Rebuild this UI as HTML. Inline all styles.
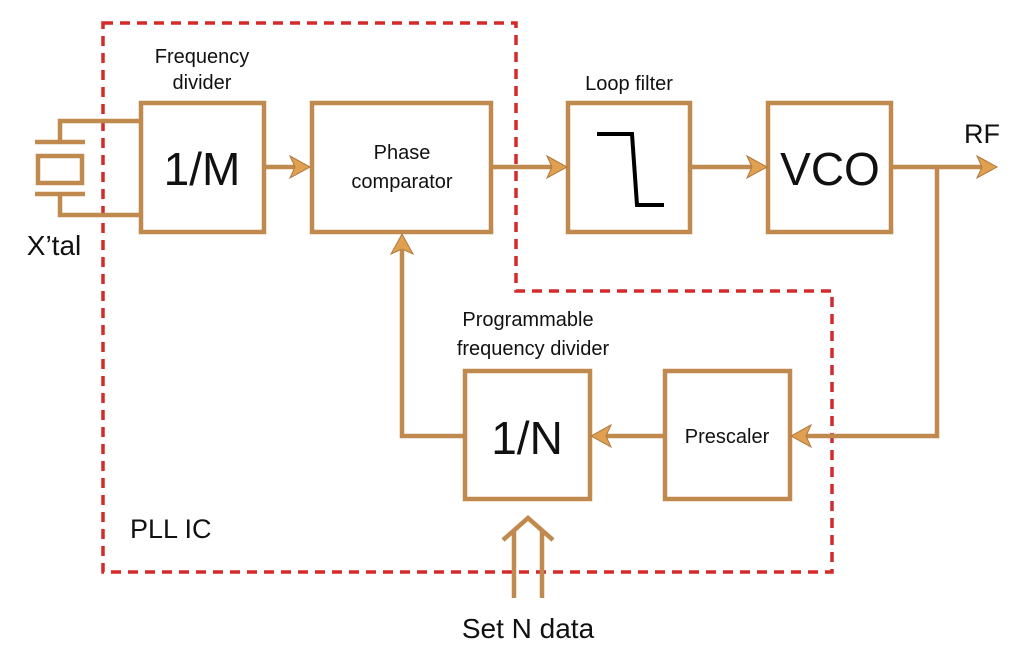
<!DOCTYPE html>
<html><head><meta charset="utf-8"><style>
html,body{margin:0;padding:0;background:#fff;}
svg{display:block;}
text{font-family:"Liberation Sans",Arial,sans-serif;fill:#111;}
</style></head><body>
<svg width="1024" height="669" viewBox="0 0 1024 669" xmlns="http://www.w3.org/2000/svg">
<path d="M103 23 H516 V291 H832 V572 H103 Z" fill="none" stroke="#d42a2a" stroke-width="3.5" stroke-dasharray="10 7"/>
<g fill="none" stroke="#c08a4e" stroke-width="4.5">
<rect x="141" y="103" width="123" height="129"/>
<rect x="312" y="103" width="179" height="129"/>
<rect x="568" y="103" width="122" height="129"/>
<rect x="768" y="103" width="123" height="129"/>
<rect x="465" y="371" width="125" height="128"/>
<rect x="665" y="371" width="125" height="128"/>
<line x1="35" y1="142" x2="85" y2="142"/>
<rect x="38" y="156" width="44" height="27"/>
<line x1="35" y1="194" x2="85" y2="194"/>
<polyline points="60,142 60,121 141,121"/>
<polyline points="60,194 60,215 141,215"/>
<line x1="264" y1="167" x2="295" y2="167"/>
<line x1="491" y1="167" x2="552" y2="167"/>
<line x1="690" y1="167" x2="752" y2="167"/>
<line x1="891" y1="167" x2="982" y2="167"/>
<polyline points="937,167 937,436 805,436"/>
<line x1="665" y1="436" x2="605" y2="436"/>
<polyline points="465,436 402,436 402,250"/>
<line x1="514" y1="598" x2="514" y2="530"/>
<line x1="542" y1="598" x2="542" y2="530"/>
<polyline points="503,540 528,518 553,540"/>
</g>
<g fill="#e0a050" stroke="#b07a3e" stroke-width="1">
<polygon points="290,156 310,167 290,178 295,167"/>
<polygon points="547,156 567,167 547,178 552,167"/>
<polygon points="747,156 767,167 747,178 752,167"/>
<polygon points="977,156 997,167 977,178 982,167"/>
<polygon points="811,425 791,436 811,447 806,436"/>
<polygon points="611,425 591,436 611,447 606,436"/>
<polygon points="391,254 402,234 413,254 402,249"/>
</g>
<polyline points="597,134 632,134 637,205 664,205" fill="none" stroke="#000" stroke-width="4"/>
<text x="202" y="63" font-size="20" text-anchor="middle">Frequency</text>
<text x="202" y="89" font-size="20" text-anchor="middle">divider</text>
<text x="202" y="185" font-size="46" text-anchor="middle">1/M</text>
<text x="402" y="159" font-size="20" text-anchor="middle">Phase</text>
<text x="402" y="188" font-size="20" text-anchor="middle">comparator</text>
<text x="629" y="90" font-size="20" text-anchor="middle">Loop filter</text>
<text x="830" y="185" font-size="46" text-anchor="middle">VCO</text>
<text x="982" y="143" font-size="27" text-anchor="middle">RF</text>
<text x="54" y="255" font-size="28" text-anchor="middle">X’tal</text>
<text x="528" y="326" font-size="20" text-anchor="middle">Programmable</text>
<text x="533" y="355" font-size="20" text-anchor="middle">frequency divider</text>
<text x="527" y="454" font-size="46" text-anchor="middle">1/N</text>
<text x="727" y="443" font-size="20" text-anchor="middle">Prescaler</text>
<text x="130" y="538" font-size="27">PLL IC</text>
<text x="528" y="638" font-size="28" text-anchor="middle">Set N data</text>
</svg>
</body></html>
